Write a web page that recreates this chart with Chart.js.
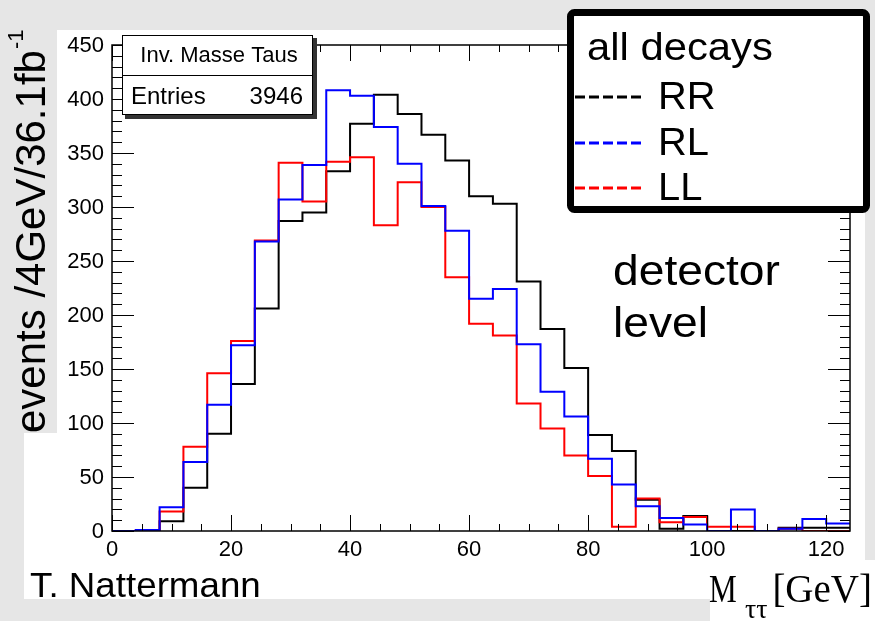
<!DOCTYPE html>
<html>
<head>
<meta charset="utf-8">
<script src="https://cdn.jsdelivr.net/npm/chart.js@4.4.1/dist/chart.umd.min.js"></script>
<style>
  html, body { margin: 0; padding: 0; background: #e6e6e6; overflow: hidden; }
</style>
</head>
<body>
<canvas id="chart" width="875" height="621"></canvas>
<script>
// lower edge of each 4 GeV bin
const binLow = [0, 4, 8, 12, 16, 20, 24, 28, 32, 36, 40, 44, 48, 52, 56, 60,
  64, 68, 72, 76, 80, 84, 88, 92, 96, 100, 104, 108, 112, 116, 120];
const binWidth = 4;

const rrCounts = [0, 0, 9, 40, 90, 136, 206, 287, 295, 333, 377, 404, 386, 367, 343, 310,
  303, 231, 187, 151, 89, 74, 29, 2, 14, 0, 0, 0, 3, 3, 3];
const rlCounts = [0, 1, 22, 64, 117, 172, 268, 307, 339, 408, 403, 374, 340, 301, 278, 215,
  224, 173, 129, 106, 67, 43, 23, 12, 6, 0, 20, 0, 2, 11, 7];
const llCounts = [0, 1, 18, 78, 146, 176, 269, 341, 305, 342, 346, 283, 323, 300, 235, 192,
  181, 118, 95, 70, 51, 4, 30, 8, 13, 4, 4, 0, 2, 0, 0];

const seriesNames = ['RR', 'RL', 'LL'];
const COLORS = ['#000000', '#0000ff', '#ff0000'];

const yTicks = [0, 50, 100, 150, 200, 250, 300, 350, 400, 450];
const xTicks = [0, 20, 40, 60, 80, 100, 120];
const entries = 3946;

const SANS = '"Liberation Sans", Arial, sans-serif';
const SERIF = '"Liberation Serif", "Times New Roman", serif';

// one point per bin edge, the last bin is closed at its upper edge
function toSteps(counts) {
  const pts = binLow.map((x, i) => ({ x: x, y: counts[i] }));
  pts.push({ x: binLow[binLow.length - 1] + binWidth, y: counts[counts.length - 1] });
  return pts;
}

function stretchText(ctx, txt, x, y, sx) {
  ctx.save();
  ctx.translate(x, y);
  ctx.scale(sx, 1);
  ctx.fillText(txt, 0, 0);
  ctx.restore();
}

const decorPlugin = {
  id: 'decor',
  beforeDraw(chart) {
    const ctx = chart.ctx;
    ctx.save();
    ctx.fillStyle = '#e6e6e6';
    ctx.fillRect(0, 0, chart.width, chart.height);
    ctx.fillStyle = '#ffffff';
    ctx.fillRect(57, 30, 808, 569);
    ctx.fillRect(24, 433, 40, 166);
    ctx.fillRect(710, 560, 165, 61);
    ctx.restore();
  },
  afterDatasetsDraw(chart) {
    const ctx = chart.ctx;
    const xs = chart.scales.x;
    const ys = chart.scales.y;
    const a = chart.chartArea;
    ctx.save();

    // frame
    ctx.strokeStyle = '#000';
    ctx.lineWidth = 1.5;
    ctx.strokeRect(a.left, a.top, a.right - a.left, a.bottom - a.top);

    // y ticks, both sides, pointing inwards
    ctx.lineWidth = 1;
    for (let v = 0; v <= 450; v += 10) {
      const py = Math.round(ys.getPixelForValue(v)) + 0.5;
      const len = v % 50 === 0 ? 22 : 10;
      ctx.beginPath();
      ctx.moveTo(a.left, py); ctx.lineTo(a.left + len, py);
      ctx.moveTo(a.right, py); ctx.lineTo(a.right - len, py);
      ctx.stroke();
    }
    // x ticks, bottom and top
    for (let v = 0; v <= 124; v += 5) {
      const px = Math.round(xs.getPixelForValue(v)) + 0.5;
      const len = v % 20 === 0 ? 16 : 7;
      ctx.beginPath();
      ctx.moveTo(px, a.bottom); ctx.lineTo(px, a.bottom - len);
      ctx.moveTo(px, a.top); ctx.lineTo(px, a.top + len);
      ctx.stroke();
    }

    // tick labels
    ctx.fillStyle = '#000';
    ctx.font = '22px ' + SANS;
    ctx.textAlign = 'right';
    ctx.textBaseline = 'middle';
    yTicks.forEach(v => {
      ctx.fillText(String(v), a.left - 8, ys.getPixelForValue(v) + 1);
    });
    ctx.textAlign = 'center';
    ctx.textBaseline = 'top';
    xTicks.forEach(v => {
      ctx.fillText(String(v), xs.getPixelForValue(v), a.bottom + 8);
    });

    // y title
    ctx.save();
    ctx.translate(45, 433);
    ctx.rotate(-Math.PI / 2);
    ctx.textAlign = 'left';
    ctx.textBaseline = 'alphabetic';
    ctx.font = '42px ' + SANS;
    const yTitle = 'events /4GeV/36.1fb';
    ctx.fillText(yTitle, 0, 0);
    const w = ctx.measureText(yTitle).width;
    ctx.font = '22px ' + SANS;
    ctx.fillText('-1', w + 1, -22);
    ctx.restore();

    // x title
    ctx.textAlign = 'left';
    ctx.textBaseline = 'alphabetic';
    ctx.font = '39px ' + SERIF;
    stretchText(ctx, 'M', 709, 602, 0.8);
    ctx.font = '28px ' + SERIF;
    ctx.fillText('ττ', 745, 618);
    ctx.font = '39px ' + SERIF;
    ctx.textAlign = 'right';
    ctx.fillText('[GeV]', 872, 602);
    ctx.textAlign = 'left';

    // author
    ctx.font = '35px ' + SANS;
    stretchText(ctx, 'T. Nattermann', 30, 597, 1.05);

    // detector level
    ctx.font = '42px ' + SANS;
    stretchText(ctx, 'detector', 613, 285, 1.1);
    stretchText(ctx, 'level', 613, 337, 1.1);

    // stats box
    ctx.fillStyle = '#333';
    ctx.fillRect(125, 38, 192, 81);
    ctx.fillStyle = '#fff';
    ctx.fillRect(122, 35, 191, 80);
    ctx.strokeStyle = '#000';
    ctx.lineWidth = 1;
    ctx.strokeRect(122.5, 35.5, 190, 79);
    ctx.beginPath();
    ctx.moveTo(122, 75.5); ctx.lineTo(313, 75.5);
    ctx.stroke();
    ctx.fillStyle = '#000';
    ctx.font = '22px ' + SANS;
    ctx.textAlign = 'center';
    ctx.textBaseline = 'middle';
    ctx.fillText('Inv. Masse Taus', 219, 56);
    ctx.font = '24px ' + SANS;
    ctx.textAlign = 'left';
    ctx.fillText('Entries', 131, 97);
    ctx.textAlign = 'right';
    ctx.fillText(String(entries), 303, 97);

    // legend box
    ctx.fillStyle = '#fff';
    ctx.strokeStyle = '#000';
    ctx.lineWidth = 7;
    ctx.beginPath();
    ctx.roundRect(570.5, 12.5, 296, 197, 4);
    ctx.fill();
    ctx.stroke();
    ctx.fillStyle = '#000';
    ctx.textAlign = 'left';
    ctx.textBaseline = 'alphabetic';
    ctx.font = '38px ' + SANS;
    stretchText(ctx, 'all decays', 587, 60, 1.1);
    const rowY = [97, 143, 188];
    chart.data.datasets.forEach((ds, i) => {
      ctx.strokeStyle = ds.borderColor;
      ctx.lineWidth = 3;
      ctx.setLineDash([10, 4]);
      ctx.beginPath();
      ctx.moveTo(575, rowY[i]);
      ctx.lineTo(645, rowY[i]);
      ctx.stroke();
      ctx.setLineDash([]);
      ctx.fillStyle = '#000';
      stretchText(ctx, ds.label, 658, rowY[i] + 12, 1.05);
    });

    ctx.restore();
  }
};

const countSets = [rrCounts, rlCounts, llCounts];
const drawOrder = [2, 0, 1]; // blue on top, black underneath

new Chart(document.getElementById('chart').getContext('2d'), {
  type: 'line',
  data: {
    datasets: seriesNames.map((name, i) => ({
      label: name,
      data: toSteps(countSets[i]),
      borderColor: COLORS[i],
      borderWidth: 2,
      stepped: true,
      pointRadius: 0,
      fill: false,
      order: drawOrder[i]
    }))
  },
  options: {
    responsive: false,
    animation: false,
    devicePixelRatio: 1,
    layout: { padding: { left: 112, top: 45, right: 25, bottom: 90 } },
    plugins: { legend: { display: false }, tooltip: { enabled: false } },
    scales: {
      x: { type: 'linear', min: 0, max: 124, display: false },
      y: { min: 0, max: 450, display: false }
    }
  },
  plugins: [decorPlugin]
});
</script>
</body>
</html>
